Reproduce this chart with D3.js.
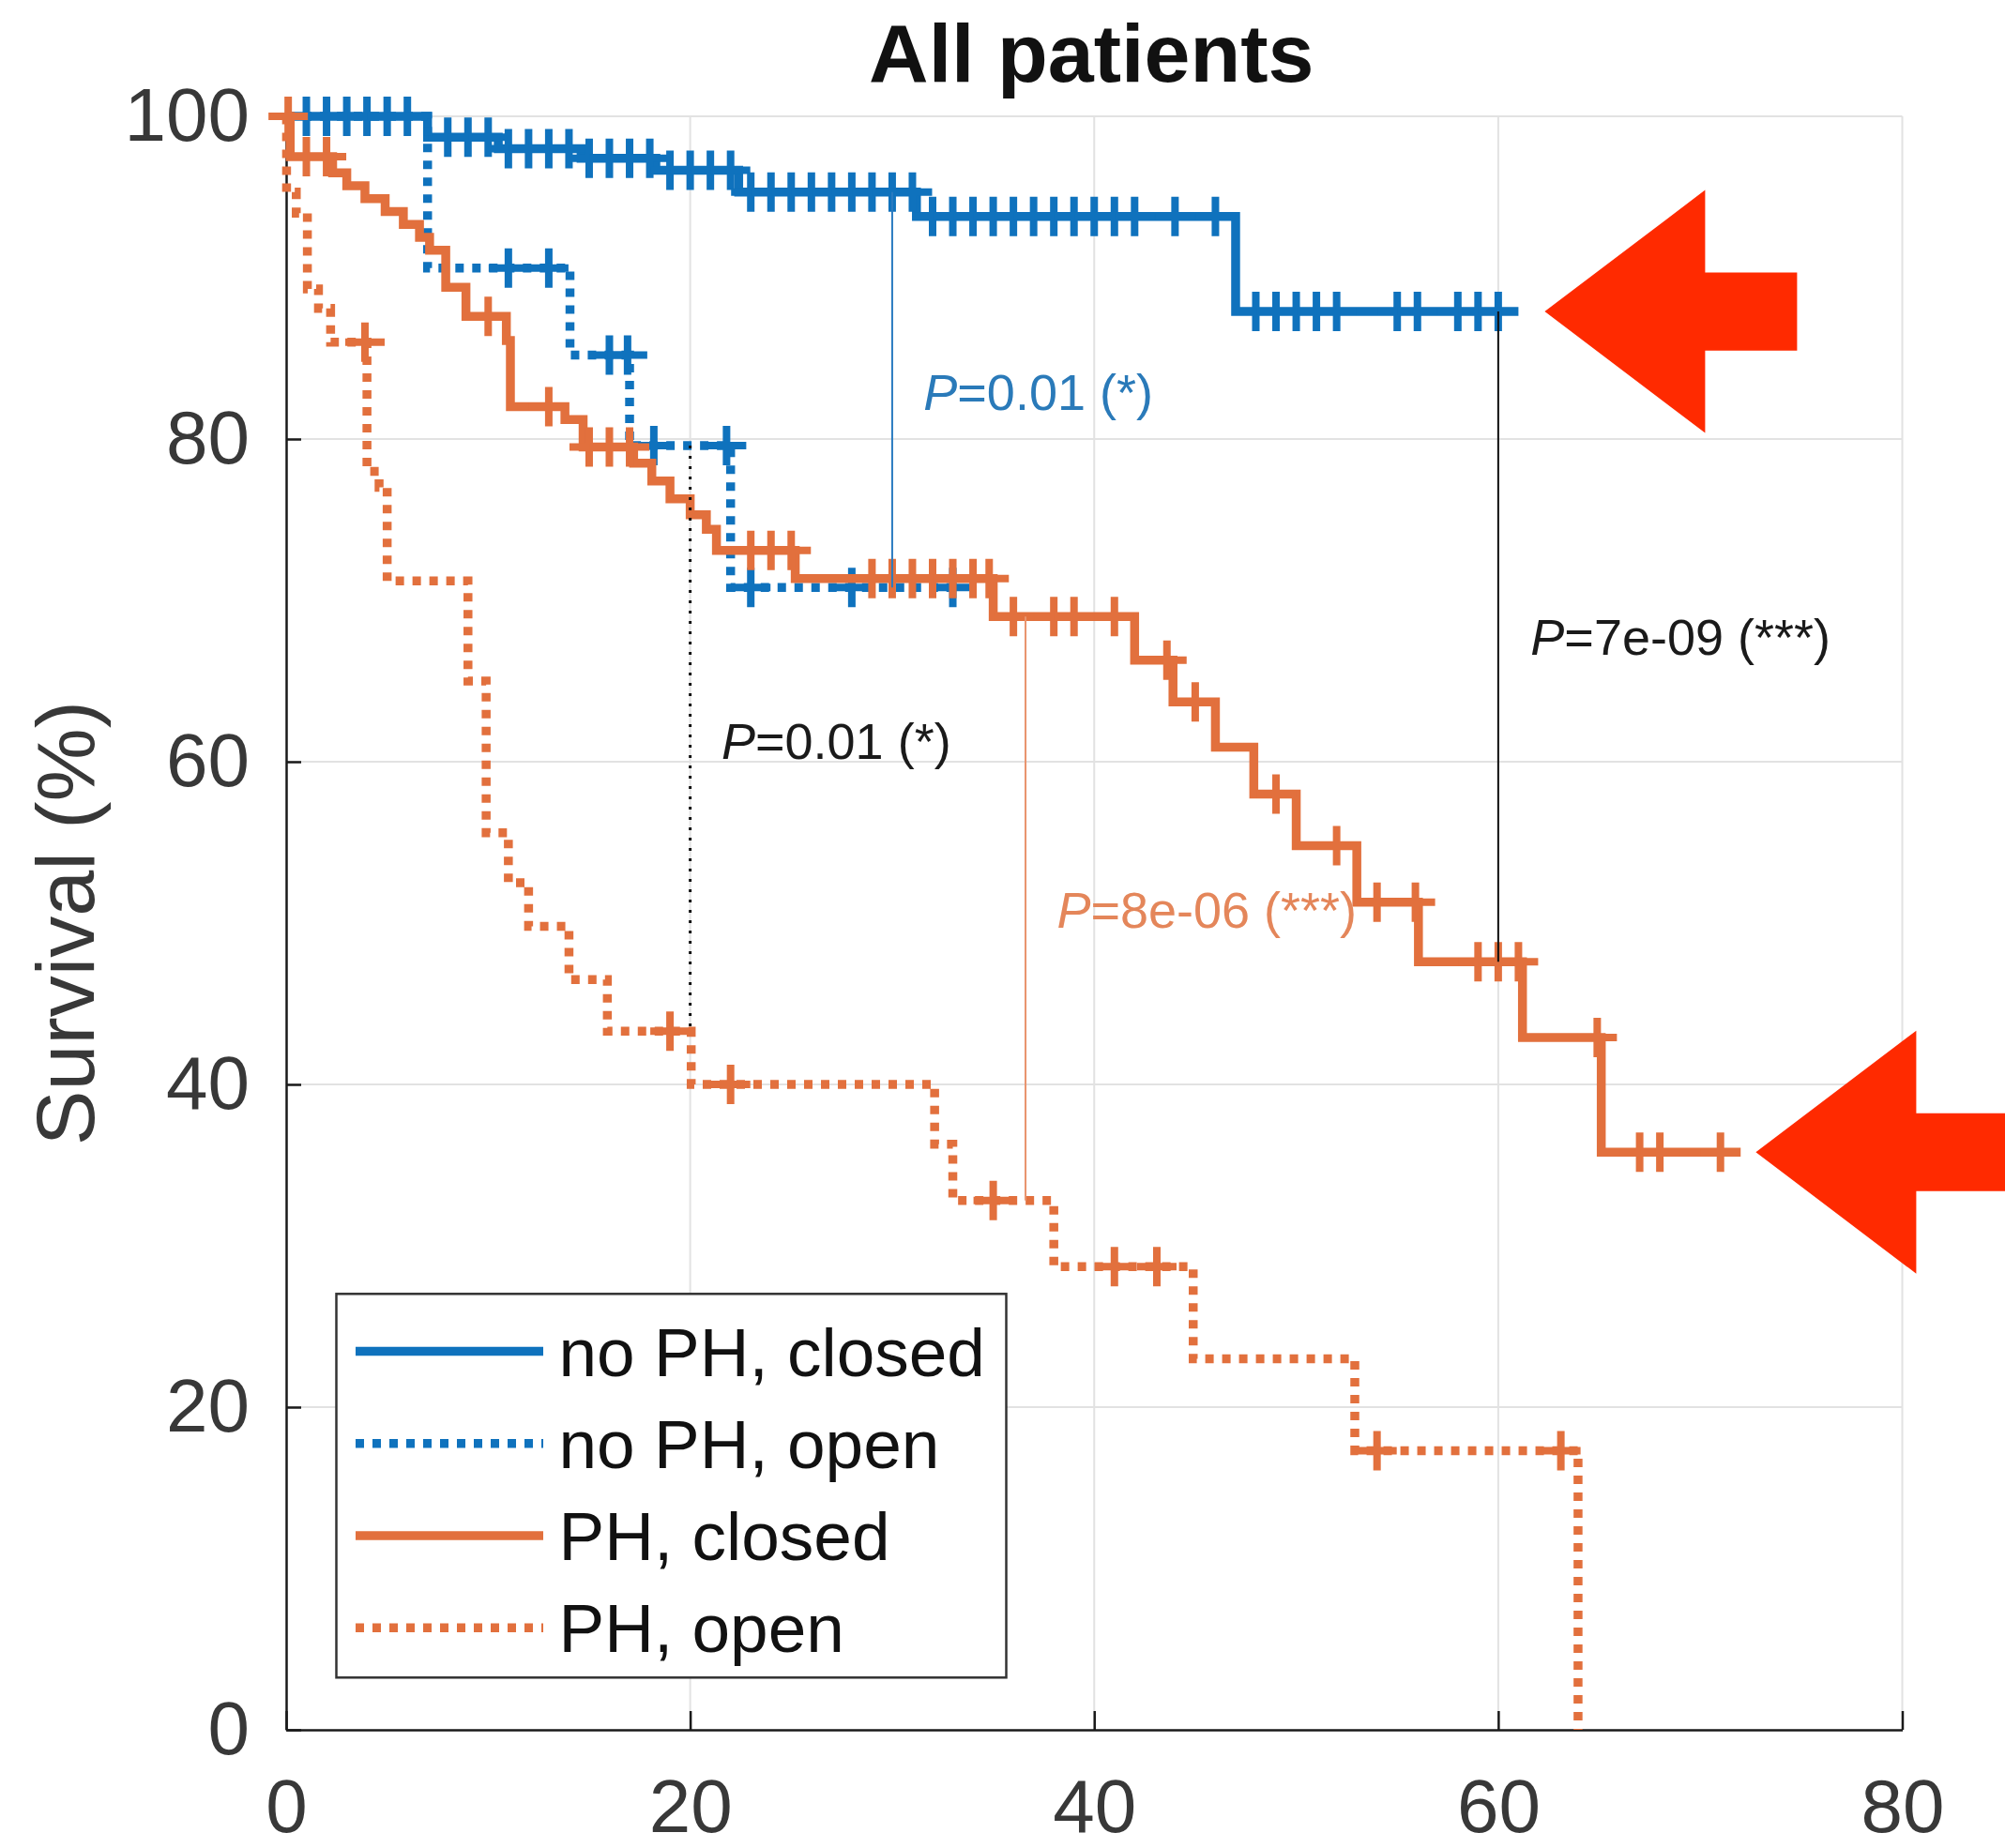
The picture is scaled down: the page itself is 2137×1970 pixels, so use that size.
<!DOCTYPE html>
<html>
<head>
<meta charset="utf-8">
<script src="https://cdn.jsdelivr.net/npm/d3@7"></script>
<style>
  body { margin: 0; background: #fff; }
  svg { display: block; font-family: "Liberation Sans", Arial, Helvetica, sans-serif; }
</style>
</head>
<body>
<div id="km-chart"></div>
<script>
// ---- data: months on x, survival (%) on y ----
const timeTicks = [0, 20, 40, 60, 80];
const survivalTicks = [0, 20, 40, 60, 80, 100];
const seriesNames = ["no PH, closed", "no PH, open", "PH, closed", "PH, open"];

// [time at which the curve drops, survival after the drop]
const noPhClosedSteps = [[0, 100], [7, 98.7], [10.5, 98.0], [14.6, 97.4], [18.3, 96.65], [22.4, 95.3], [31.2, 93.8], [47, 87.9]];
const noPhClosedEnd = 61;
const noPhClosedCensored = [1, 2, 3, 4, 5, 6, 8, 9, 10, 11, 12, 13, 14, 15, 16, 17, 18, 19, 20, 21, 22,
  23, 24, 25, 26, 27, 28, 29, 30, 31, 32, 33, 34, 35, 36, 37, 38, 39, 40, 41, 42, 44, 46,
  48, 49, 50, 51, 52, 55, 56, 58, 59, 60];

const noPhOpenSteps = [[0, 100], [7, 90.6], [14.05, 85.2], [17, 79.6], [22, 70.8]];
const noPhOpenEnd = 33.5;
const noPhOpenCensored = [11, 13, 16, 16.9, 18.2, 21.8, 23, 28, 33];

const phClosedSteps = [[0, 100], [0.2, 97.5], [2.3, 96.5], [3.0, 95.7], [3.9, 94.9], [4.9, 94.1], [5.8, 93.3],
  [6.6, 92.5], [7.1, 91.7], [7.9, 89.4], [8.9, 87.6], [10.9, 86.1], [11.1, 82.0], [13.8, 81.2], [14.7, 79.5],
  [17.2, 78.5], [18.1, 77.4], [19.0, 76.3], [20.0, 75.3], [20.8, 74.4], [21.3, 73.1], [25.2, 71.35],
  [35.0, 69.0], [42.0, 66.3], [43.9, 63.7], [46.0, 60.9], [47.9, 58.0], [50.0, 54.8], [53.0, 51.3],
  [56.05, 47.6], [61.2, 42.9], [65.1, 35.8]];
const phClosedEnd = 72;
const phClosedCensored = [0.1, 1, 2, 10, 13, 15, 16, 17, 23, 24, 25, 29, 30, 31, 32, 33, 34, 34.8, 36, 38, 39, 41,
  43.6, 45, 49, 52, 54, 55.9, 59, 60, 61, 64.9, 67, 68, 71];

const phOpenSteps = [[0, 100], [0.02, 95.3], [0.5, 94.0], [1.05, 89.3], [1.6, 88.1], [2.2, 86.0], [4.0, 78.0],
  [4.6, 77.0], [5.0, 71.2], [9.0, 65.0], [9.9, 55.6], [11.0, 52.5], [12.0, 49.8], [14.0, 46.5], [15.9, 43.3],
  [20.05, 40.0], [32.1, 36.3], [33.0, 32.8], [38.0, 28.7], [44.9, 23.0], [52.9, 17.3], [63.95, 0]];
const phOpenEnd = 63.95;
const phOpenCensored = [3.9, 19, 22, 35, 41, 43.1, 54, 63.1];

// log-rank comparisons: [series a, series b, time of the connector], label, placement [time, survival]
const pPairs = [[0, 1, 30], [1, 3, 20], [2, 3, 36.6], [0, 2, 60]];
const pLabels = ["=0.01 (*)", "=0.01 (*)", "=8e-06 (***)", "=7e-09 (***)"];
const pLabelAt = [[31.55, 81.8], [21.55, 60.2], [38.15, 49.7], [61.6, 66.6]];

// red arrows point at the ends of these curves: [series index, time of the tip]
const arrowTargets = [[0, 62.3], [2, 72.75]];

// ---- layout ----
const width = 2137, height = 1970;
const margin = { top: 124, right: 109.5, bottom: 126, left: 305 };
const blue = "#0f72bd", orange = "#e2703d";
const curveWidth = 9.5, dotPattern = "9,9";

const series = [
  { steps: noPhClosedSteps, end: noPhClosedEnd, censored: noPhClosedCensored, color: blue, dotted: false },
  { steps: noPhOpenSteps, end: noPhOpenEnd, censored: noPhOpenCensored, color: blue, dotted: true },
  { steps: phClosedSteps, end: phClosedEnd, censored: phClosedCensored, color: orange, dotted: false },
  { steps: phOpenSteps, end: phOpenEnd, censored: phOpenCensored, color: orange, dotted: true }
];
const pStyles = [
  { line: "#2a7bc0", text: "#2a7ab9", dash: null },
  { line: "#111", text: "#1a1a1a", dash: "3,8" },
  { line: "#e9936c", text: "#e4865a", dash: null },
  { line: "#111", text: "#1a1a1a", dash: null }
];

// survival at time t for a step curve
function survivalAt(steps, t) {
  let s = steps[0][1];
  steps.forEach(d => { if (d[0] <= t) s = d[1]; });
  return s;
}

const x = d3.scaleLinear().domain([0, 80]).range([margin.left, width - margin.right]);
const y = d3.scaleLinear().domain([0, 100]).range([height - margin.bottom, margin.top]);

const svg = d3.select("#km-chart").append("svg")
  .attr("width", width)
  .attr("height", height);

// Grid
svg.append("g").selectAll("line").data(timeTicks.slice(1)).enter().append("line")
  .attr("x1", d => x(d)).attr("x2", d => x(d))
  .attr("y1", y(0)).attr("y2", y(100))
  .attr("stroke", "#e2e2e2").attr("stroke-width", 2);
svg.append("g").selectAll("line").data(survivalTicks.slice(1)).enter().append("line")
  .attr("x1", x(0)).attr("x2", x(80))
  .attr("y1", d => y(d)).attr("y2", d => y(d))
  .attr("stroke", "#e2e2e2").attr("stroke-width", 2);

// Axes with inward ticks
const xAxis = svg.append("g")
  .attr("transform", `translate(0,${y(0)})`)
  .call(d3.axisBottom(x).tickValues(timeTicks).tickSize(-20).tickSizeOuter(0).tickPadding(52));
const yAxis = svg.append("g")
  .attr("transform", `translate(${x(0)},0)`)
  .call(d3.axisLeft(y).tickValues(survivalTicks).tickSize(-16).tickSizeOuter(0).tickPadding(39));
[xAxis, yAxis].forEach(g => {
  g.select(".domain").attr("stroke", "#1a1a1a").attr("stroke-width", 2.5);
  g.selectAll(".tick line").attr("stroke", "#1a1a1a").attr("stroke-width", 2.5);
  g.selectAll(".tick text")
    .attr("font-size", 80)
    .attr("font-family", "'Liberation Sans', Arial, sans-serif")
    .attr("fill", "#383838");
});

// Title and axis label
svg.append("text")
  .attr("x", (x(0) + x(80)) / 2 - 3)
  .attr("y", 87)
  .attr("text-anchor", "middle")
  .attr("font-size", 88)
  .attr("font-weight", "bold")
  .attr("fill", "#111")
  .text("All patients");

svg.append("text")
  .attr("transform", `translate(100,${(y(0) + y(100)) / 2}) rotate(-90)`)
  .attr("text-anchor", "middle")
  .attr("font-size", 88)
  .attr("fill", "#383838")
  .text("Survival (%)");

// Kaplan-Meier curves
const stepLine = d3.line()
  .x(d => x(d[0]))
  .y(d => y(d[1]))
  .curve(d3.curveStepAfter);

series.forEach(s => {
  const pts = s.steps.concat([[s.end, s.steps[s.steps.length - 1][1]]]);
  svg.append("path")
    .attr("d", stepLine(pts))
    .attr("fill", "none")
    .attr("stroke", s.color)
    .attr("stroke-width", curveWidth)
    .attr("stroke-dasharray", s.dotted ? dotPattern : null);

  svg.append("g").selectAll("path")
    .data(s.censored)
    .enter().append("path")
    .attr("d", t => {
      const cx = x(t), cy = y(survivalAt(s.steps, t));
      return `M${cx - 21},${cy}H${cx + 21}M${cx},${cy - 21}V${cy + 21}`;
    })
    .attr("stroke", s.color)
    .attr("stroke-width", 8)
    .attr("fill", "none");
});

// P-value connectors and labels
pPairs.forEach((p, i) => {
  const a = series[p[0]], b = series[p[1]];
  svg.append("line")
    .attr("x1", x(p[2])).attr("x2", x(p[2]))
    .attr("y1", y(survivalAt(a.steps, p[2])))
    .attr("y2", y(survivalAt(b.steps, p[2])))
    .attr("stroke", pStyles[i].line)
    .attr("stroke-width", pStyles[i].dash ? 3 : 2)
    .attr("stroke-dasharray", pStyles[i].dash);

  const label = svg.append("text")
    .attr("x", x(pLabelAt[i][0]))
    .attr("y", y(pLabelAt[i][1]))
    .attr("font-size", 54)
    .attr("fill", pStyles[i].text);
  label.append("tspan").attr("font-style", "italic").text("P");
  label.append("tspan").text(pLabels[i]);
});

// Legend
const legend = svg.append("g").attr("transform", "translate(358.5,1379.3)");
legend.append("rect")
  .attr("width", 714).attr("height", 409)
  .attr("fill", "#fff")
  .attr("stroke", "#333")
  .attr("stroke-width", 2.5);
seriesNames.forEach((name, i) => {
  const ly = 61.3 + i * 98.2;
  legend.append("line")
    .attr("x1", 20.5).attr("x2", 220.5)
    .attr("y1", ly).attr("y2", ly)
    .attr("stroke", series[i].color)
    .attr("stroke-width", curveWidth)
    .attr("stroke-dasharray", series[i].dotted ? dotPattern : null);
  legend.append("text")
    .attr("x", 237)
    .attr("y", ly)
    .attr("dy", "0.36em")
    .attr("font-size", 73)
    .attr("fill", "#111")
    .text(name);
});

// Red arrows pointing at the final survival levels
arrowTargets.forEach(a => {
  const s = series[a[0]];
  const tx = x(a[1]), ty = y(s.steps[s.steps.length - 1][1]);
  svg.append("path")
    .attr("d", `M${tx},${ty}L${tx + 171},${ty - 129.5}V${ty - 41.6}H${tx + 269}V${ty + 41.6}H${tx + 171}V${ty + 129.5}Z`)
    .attr("fill", "#ff2a00");
});
</script>
</body>
</html>
